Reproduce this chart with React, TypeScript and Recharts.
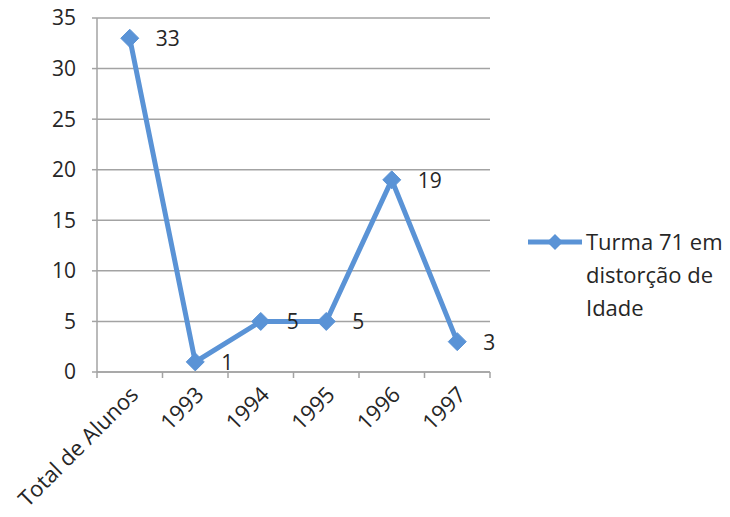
import React from 'react';
import { LineChart, Line, XAxis, YAxis, CartesianGrid, Legend, LabelList } from 'recharts';

const categories = ['Total de Alunos', '1993', '1994', '1995', '1996', '1997'];
const values = [33, 1, 5, 5, 19, 3];
const seriesName = 'Turma 71 em distorção de Idade';
const legendLines = ['Turma 71 em', 'distorção de', 'Idade'];
const yTicks = [0, 5, 10, 15, 20, 25, 30, 35];

const data = categories.map((c, i) => ({ name: c, value: values[i] }));

const BLUE = '#5a93d6';
const GRID = '#a3a3a3';
const TEXT = '#262626';
const FONT = '"Open Sans", sans-serif';

const Diamond = (props: any) => {
  const { cx, cy } = props;
  if (cx == null || cy == null) return null;
  const r = 9;
  return (
    <polygon
      points={`${cx},${cy - r} ${cx + r},${cy} ${cx},${cy + r} ${cx - r},${cy}`}
      fill={BLUE}
      stroke={BLUE}
      strokeWidth={1}
    />
  );
};

const XTick = (props: any) => {
  const { x, y, payload, index, visibleTicksCount } = props;
  const off = payload && payload.offset ? payload.offset : 0;
  const last = index === (visibleTicksCount ?? categories.length) - 1;
  const tx = x + 10;
  const ty = y + 24;
  return (
    <g>
      <line x1={x - off} y1={y} x2={x - off} y2={y + 6} stroke={GRID} strokeWidth={1.5} />
      {last && <line x1={x + off} y1={y} x2={x + off} y2={y + 6} stroke={GRID} strokeWidth={1.5} />}
      <text
        x={tx}
        y={ty}
        transform={`rotate(-45 ${tx} ${ty})`}
        textAnchor="end"
        fill={TEXT}
        fontSize={22}
        fontFamily={FONT}
      >
        {payload.value}
      </text>
    </g>
  );
};

const ValueLabel = (props: any) => {
  const { x, y, value } = props;
  return (
    <text x={x + 26} y={y + 8} fill={TEXT} fontSize={21} fontFamily={FONT} textAnchor="start">
      {value}
    </text>
  );
};

const renderLegend = (props: any) => {
  const { payload } = props;
  const color = payload && payload[0] ? payload[0].color : BLUE;
  return (
    <div style={{ display: 'flex', alignItems: 'flex-start', fontFamily: FONT, fontSize: 22, color: TEXT }}>
      <svg width={60} height={32} style={{ flex: 'none' }}>
        <line x1={2} y1={17} x2={56} y2={17} stroke={color} strokeWidth={5} />
        <polygon points="29,9 37,17 29,25 21,17" fill={color} />
      </svg>
      <div style={{ lineHeight: '33px', whiteSpace: 'nowrap' }}>
        {legendLines.map((l) => (
          <div key={l}>{l}</div>
        ))}
      </div>
    </div>
  );
};

export default function App() {
  return (
    <div style={{ position: 'absolute', left: 0, top: 0, background: '#fff' }}>
      <LineChart
        width={730}
        height={517}
        data={data}
        margin={{ top: 18, right: 240, bottom: 0, left: 0 }}
      >
        <CartesianGrid vertical={false} stroke={GRID} strokeWidth={1.5} />
        <XAxis
          dataKey="name"
          scale="band"
          interval={0}
          height={145}
          tickLine={false}
          tickSize={0}
          tickMargin={0}
          axisLine={{ stroke: GRID, strokeWidth: 1.5 }}
          tick={<XTick />}
        />
        <YAxis
          domain={[0, 35]}
          ticks={yTicks}
          width={97}
          tickSize={5}
          tickMargin={16}
          axisLine={{ stroke: GRID, strokeWidth: 1.5 }}
          tickLine={{ stroke: GRID, strokeWidth: 1.5 }}
          tick={{ fill: TEXT, fontSize: 21, fontFamily: FONT }}
        />
        <Legend
          layout="horizontal"
          verticalAlign="middle"
          align="center"
          content={renderLegend}
          wrapperStyle={{ left: 526, top: 225, width: 204 }}
        />
        <Line
          name={seriesName}
          dataKey="value"
          stroke={BLUE}
          strokeWidth={5}
          dot={<Diamond />}
          activeDot={false}
          isAnimationActive={false}
        >
          <LabelList dataKey="value" content={<ValueLabel />} />
        </Line>
      </LineChart>
    </div>
  );
}
